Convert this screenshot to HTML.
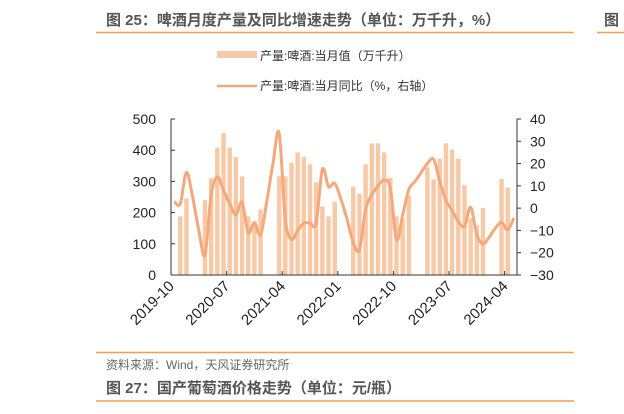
<!DOCTYPE html>
<html><head><meta charset="utf-8"><style>
body{margin:0;width:624px;height:409px;background:#fff;overflow:hidden;font-family:"Liberation Sans","Noto Sans CJK SC",sans-serif;}
svg text{font-family:"Liberation Sans","Noto Sans CJK SC",sans-serif;}
</style></head><body>
<svg width="624" height="409">
<text x="106" y="25" font-size="15" font-weight="bold" fill="#555">图 25：啤酒月度产量及同比增速走势（单位：万千升，%）</text>
<line x1="96" y1="32.5" x2="574" y2="32.5" stroke="#f0a050" stroke-width="1.5"/>
<text x="604" y="25" font-size="15" font-weight="bold" fill="#555">图</text>
<line x1="597" y1="32.5" x2="624" y2="32.5" stroke="#f0a050" stroke-width="1.5"/>
<rect x="217" y="51" width="40" height="7" fill="#f8c9a6"/>
<text x="260" y="60" font-size="12" fill="#333">产量:啤酒:当月值（万千升）</text>
<line x1="217" y1="86" x2="257" y2="86" stroke="#f4a97c" stroke-width="2.5"/>
<text x="260" y="90" font-size="12" fill="#333">产量:啤酒:当月同比（%，右轴）</text>
<g id="plot"></g>
<line x1="96" y1="352.5" x2="574" y2="352.5" stroke="#f0a050" stroke-width="1.5"/>
<text x="106" y="369" font-size="12" fill="#666">资料来源：Wind，天风证券研究所</text>
<text x="106" y="393" font-size="15" font-weight="bold" fill="#555">图 27：国产葡萄酒价格走势（单位：元/瓶）</text>
<line x1="96" y1="401" x2="574" y2="401" stroke="#f0a050" stroke-width="1.5"/>
</svg>
<script>
const N=56;
const barValues=[null,188,245,null,null,240,310,408,455,408,378,316,188,172,210,null,null,316,316,360,393,378,355,297,220,188,235,null,null,283,260,355,422,422,393,312,188,178,255,null,null,345,307,373,422,402,373,288,182,160,215,null,null,307,280,null];
const yoyValues=[3,2,16,5,-10,-21,6,14,8,2,-3,2.6,-11,-6.5,-12,3,20,33.7,-5,-14,-10,-6.7,-6.7,-6.7,17.4,9.6,11.1,4,-5,-15.5,-18.7,-0.6,6,10,12.6,9,-14.2,-3,8.4,12,16,20,21.9,12,3.5,-1,-6,-8.2,0.4,-12,-16,-13,-9,-6.4,-9.7,-4.4];
const leftTicks=[0,100,200,300,400,500];
const rightTicks=[-30,-20,-10,0,10,20,30,40];
const xTickLabels=["2019-10","2020-07","2021-04","2022-01","2022-10","2023-07","2024-04"];
const xTickIndex=[0,9,18,27,36,45,54];
const X0=171,X1=517,YT=119,YB=275,bw=(X1-X0)/N;
const xs=i=>X0+(i+0.5)*bw;
const yl=v=>YB-(v/500)*(YB-YT);
const yr=v=>YB-((v+30)/70)*(YB-YT);
const ns="http://www.w3.org/2000/svg";
const g=document.getElementById('plot');
function mk(t,a){const e=document.createElementNS(ns,t);for(const k in a)e.setAttribute(k,a[k]);g.appendChild(e);return e;}
barValues.forEach((v,i)=>{if(v==null)return;
const r=mk('rect',{x:xs(i)-bw*0.36,y:yl(v),width:bw*0.72,height:YB-yl(v),fill:'#f8c9a6'});

});
const pts=yoyValues.map((v,i)=>[xs(i),yr(v)]);
let d='M'+pts[0][0]+','+pts[0][1];
for(let i=0;i<pts.length-1;i++){const p0=pts[i-1]||pts[i],p1=pts[i],p2=pts[i+1],p3=pts[i+2]||p2;
d+=' C'+(p1[0]+(p2[0]-p0[0])/6)+','+(p1[1]+(p2[1]-p0[1])/6)+' '+(p2[0]-(p3[0]-p1[0])/6)+','+(p2[1]-(p3[1]-p1[1])/6)+' '+p2[0]+','+p2[1];}
const ln=mk('path',{d:d,fill:'none',stroke:'#f4a97c','stroke-width':3});


const la=mk('line',{x1:X0,y1:YT,x2:X0,y2:YB,stroke:'#333'});


const ra=mk('line',{x1:X1,y1:YT,x2:X1,y2:YB,stroke:'#333'});


const xa=mk('line',{x1:X0,y1:YB,x2:X1,y2:YB,stroke:'#333'});


leftTicks.forEach(v=>{const y=yl(v);mk('line',{x1:X0,y1:y,x2:X0+4,y2:y,stroke:'#333'});
const t=mk('text',{x:X0-15,y:y+5,'font-size':14,'text-anchor':'end',fill:'#222'});t.textContent=v;

});
rightTicks.forEach(v=>{const y=yr(v);mk('line',{x1:X1,y1:y,x2:X1+4,y2:y,stroke:'#333'});
const t=mk('text',{x:X1+13,y:y+5,'font-size':14,fill:'#222'});t.textContent=(v<0?'\u2212'+(-v):v);

});
xTickLabels.forEach((s,k)=>{const x=X0+xTickIndex[k]*bw;mk('line',{x1:x,y1:YB,x2:x,y2:YB-4,stroke:'#333'});
const ax=x+4,ay=YB+12;
const t=mk('text',{x:ax,y:ay,'font-size':15,'text-anchor':'end',fill:'#222',transform:'rotate(-45 '+ax+' '+ay+')'});t.textContent=s;

});
</script>
</body></html>
